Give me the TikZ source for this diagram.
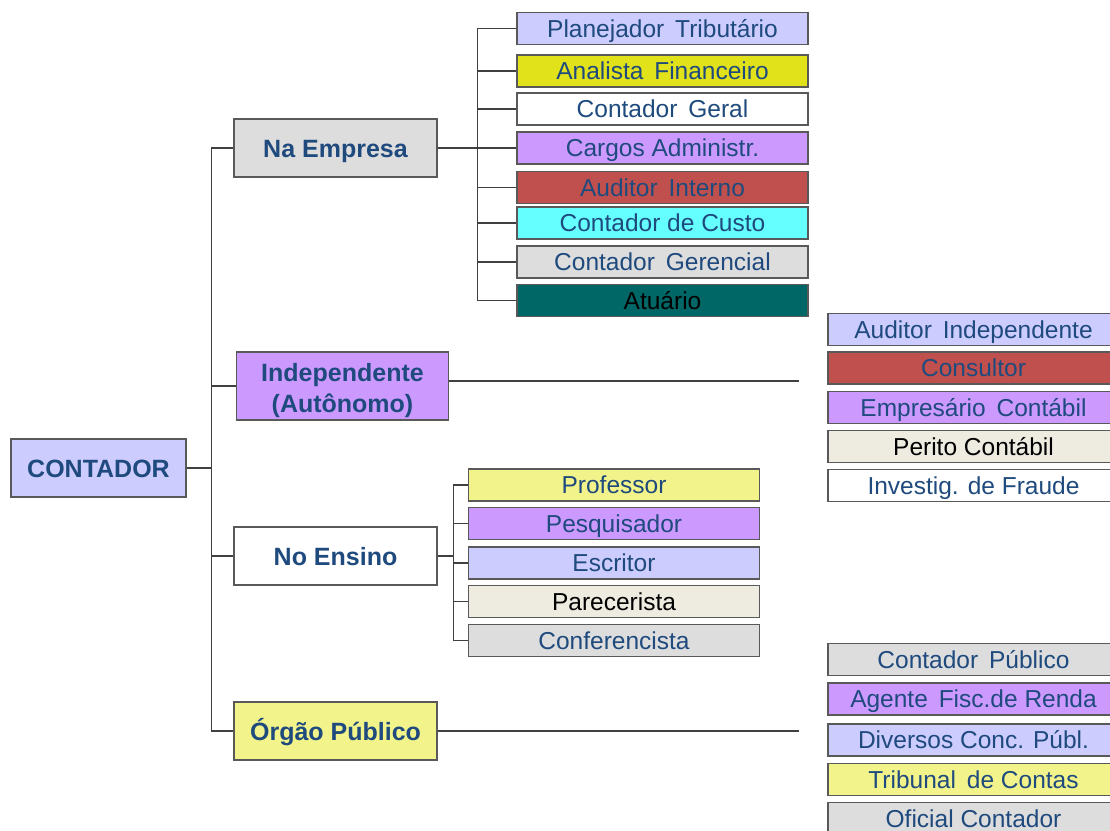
\documentclass[tikz,border=0pt]{standalone}
\usepackage{fontspec}
\setmainfont{Liberation Sans}
\definecolor{txt}{HTML}{1F4A7D}
\definecolor{lav}{HTML}{CCCCFF}
\definecolor{yel}{HTML}{E2E21A}
\definecolor{pur}{HTML}{CC99FF}
\definecolor{red}{HTML}{C0504D}
\definecolor{cya}{HTML}{66FFFF}
\definecolor{gry}{HTML}{DDDDDD}
\definecolor{teal}{HTML}{006666}
\definecolor{lyel}{HTML}{F3F38C}
\definecolor{beige}{HTML}{EEECE1}
\definecolor{brd}{HTML}{595959}
\definecolor{ln}{HTML}{404040}
\tikzset{
  mainbase/.style={draw=brd, line width=1.2pt, minimum width=203pt, minimum height=58pt, inner sep=0pt,
    font=\fontsize{25}{32}\selectfont\bfseries, text=txt, align=center},
  mainbox/.style={mainbase, text height=18pt, text depth=0pt},
  leaf/.style={draw=brd, line width=1.2pt, minimum width=291pt, minimum height=32pt, inner sep=0pt,
    font=\fontsize{24.5}{28}\selectfont, text=txt, text height=17.5pt, text depth=0pt},
  conn/.style={draw=ln, line width=1.3pt}
}
\begin{document}
\begin{tikzpicture}[x=1pt,y=-1pt]
\useasboundingbox (0,0) rectangle (1110,830);
% root
\node[mainbox, fill=lav, minimum width=175pt] (root) at (98.5,468) {CONTADOR};
% level 1
\node[mainbox, fill=gry] (emp) at (335.5,148) {Na Empresa};
\node[mainbase, fill=pur, minimum width=212pt, minimum height=68pt] (ind) at (342.5,386)
  {\raisebox{-4.5pt}[\height][\depth]{\begin{tabular}{@{}c@{}}Independente\\[-0.5pt](Autônomo)\end{tabular}}};
\node[mainbox, fill=white] (ens) at (335.5,556) {No Ensino};
\node[mainbox, fill=lyel] (org) at (335.5,731) {Órgão Público};
% Na Empresa children
\node[leaf, fill=lav] (e1) at (662.5,28.5) {Planejador\ \,Tributário};
\node[leaf, fill=yel] (e2) at (662.5,71) {Analista\ \,Financeiro};
\node[leaf, fill=white] (e3) at (662.5,109) {Contador\ \,Geral};
\node[leaf, fill=pur] (e4) at (662.5,148) {Cargos Administr.};
\node[leaf, fill=red] (e5) at (662.5,187.5) {Auditor\ \,Interno};
\node[leaf, fill=cya] (e6) at (662.5,223) {Contador de Custo};
\node[leaf, fill=gry] (e7) at (662.5,262) {Contador\ \,Gerencial};
\node[leaf, fill=teal, text=black] (e8) at (662.5,300.5) {Atuário};
% Independente group
\node[leaf, fill=lav] (i1) at (973.5,329.5) {Auditor\ \,Independente};
\node[leaf, fill=red] (i2) at (973.5,368) {Consultor};
\node[leaf, fill=pur] (i3) at (973.5,407.5) {Empresário\ \,Contábil};
\node[leaf, fill=beige, text=black] (i4) at (973.5,446.5) {Perito Contábil};
\node[leaf, fill=white] (i5) at (973.5,485.5) {Investig. de Fraude};
% Ensino children
\node[leaf, fill=lyel] (s1) at (614,485) {Professor};
\node[leaf, fill=pur] (s2) at (614,523.5) {Pesquisador};
\node[leaf, fill=lav] (s3) at (614,563) {Escritor};
\node[leaf, fill=beige, text=black] (s4) at (614,601.5) {Parecerista};
\node[leaf, fill=gry] (s5) at (614,640.5) {Conferencista};
% Orgao group
\node[leaf, fill=gry] (o1) at (973.5,659.5) {Contador\ \,Público};
\node[leaf, fill=pur] (o2) at (973.5,699) {Agente\ \,Fisc.de Renda};
\node[leaf, fill=lav] (o3) at (973.5,740) {Diversos Conc. Públ.};
\node[leaf, fill=lyel] (o4) at (973.5,779.5) {Tribunal\ \,de Contas};
\node[leaf, fill=gry] (o5) at (973.5,818.5) {Oficial Contador};
% connectors
\coordinate (indEnd) at (799,381);
\coordinate (orgEnd) at (799,731);
\foreach \n in {emp,ind,ens,org}
  \draw[conn] (root.east) -- ++(25,0) |- (\n.west);
\foreach \n in {e1,e2,e3,e4,e5,e6,e7,e8}
  \draw[conn] (emp.east) -- ++(40,0) |- (\n.west);
\foreach \n in {s1,s2,s3,s4,s5}
  \draw[conn] (ens.east) -- ++(16,0) |- (\n.west);
\draw[conn] (ind.east |- indEnd) -- (indEnd);
\draw[conn] (org.east) -- (orgEnd);
\end{tikzpicture}
\end{document}
